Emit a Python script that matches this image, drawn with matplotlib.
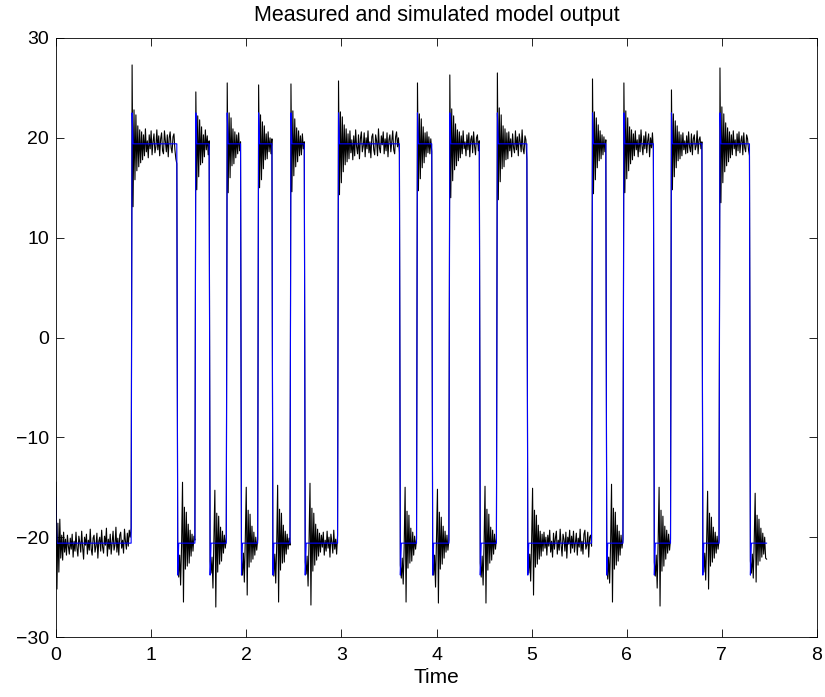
import matplotlib
matplotlib.use("Agg")
import matplotlib.pyplot as plt
import numpy as np

# sample period of the record [s]
dt = 0.01

# switching instants of the input
rise_times = [0.80, 1.47, 1.80, 2.13, 2.47, 2.97, 3.80, 4.14, 4.64, 5.64, 5.97, 6.47, 6.98]
fall_times = [1.28, 1.62, 1.95, 2.28, 2.62, 3.62, 3.96, 4.46, 4.96, 5.79, 6.29, 6.80, 7.30]

# settled levels of the simulated output
high_level = 19.4
low_level = -20.6
# simulated output, first sample after an edge and at t=0
rise_peak = 22.5
fall_peak = -23.8
start_value = -16.0

# measured output minus the settled level, one value per sample
meas_resid = [
    # low, 0 .. 0.79
    6.1, -4.6, 2.0, -2.9, 2.4, -1.5, 0.8, -1.7, 1.1, -0.9,
    0.4, -1.2, 0.8, -0.3, -1.1, 0.5, -0.6, 0.9, -1.4, 0.2,
    -0.8, 1.1, -0.5, -1.3, 0.7, 0.1, -0.9, 1.2, -0.4, -1.6,
    0.6, -0.2, 0.9, -1.1, 0.3, -0.7, 1.4, -0.6, -1.2, 0.5,
    0.8, -0.9, -0.3, 1.0, -1.5, 0.2, 0.6, -0.8, 1.3, -0.4,
    -1.0, 0.7, -0.2, 1.5, -1.3, 0.4, -0.6, 0.9, -1.1, 0.1,
    1.2, -0.7, -0.2, 1.6, -0.9, 0.5, -1.2, 0.8, 1.1, -0.5,
    0.3, -1.0, 1.4, 0.2, -0.6, 1.0, -0.3, 1.3, 0.6, 1.5,
    # high
    7.9, -6.3, 3.4, -3.6, 2.9, -2.7, 1.8, -2.3, 1.4, -1.9,
    1.2, -1.6, 0.9, -1.2, 1.5, -0.8, 0.3, -1.4, 0.9, -0.5,
    1.3, -1.1, 0.2, 1.0, -0.9, -0.3, 1.4, -0.6, 0.8, -1.2,
    0.5, 1.1, -0.7, -1.0, 1.3, 0.2, -0.8, 0.9, -1.3, 0.6,
    1.2, -0.4, -0.9, 0.7, 1.0, -0.6, -1.5, -2.0,
    # low
    -2.0, -3.4, -1.2, -4.2, -0.3, 6.1, -5.9, 3.6, -2.6, 3.1,
    -2.3, 1.9, -2.0, 1.3, -1.3, 0.9, -0.8, 0.7, 0.3,
    # high
    5.2, -4.6, 2.8, -3.3, 2.4, -2.1, 1.7, -1.9, 0.9, -1.3,
    1.4, -0.6, 0.8, -1.1, 0.3,
    # low
    -1.8, -3.0, -1.4, -4.5, 0.2, 5.3, -6.4, 3.0, -2.9, 2.7,
    -2.1, 1.6, -1.8, 1.2, -1.0, 0.8, -0.5, 0.6,
    # high
    6.1, -4.9, 3.1, -3.4, 2.6, -2.2, 1.5, -2.0, 1.2, -1.4,
    0.9, -1.0, 1.1, -0.7, 0.2,
    # low
    -1.6, -3.2, -1.0, -3.9, 0.4, 5.6, -5.2, 3.3, -2.4, 2.9,
    -1.9, 1.7, -1.6, 1.1, -1.2, 0.6, -0.7, 0.4,
    # high
    5.9, -4.4, 2.9, -3.6, 2.2, -2.5, 1.8, -1.6, 1.0, -1.5,
    1.2, -0.8, 0.6, -1.0, 0.5,
    # low
    -2.1, -3.3, -1.1, -4.0, -0.2, 5.8, -5.9, 3.4, -2.7, 3.0,
    -2.0, 1.8, -1.9, 1.2, -1.1, 0.9, -0.6, 0.5, -0.2,
    # high
    6.0, -4.8, 3.3, -3.2, 2.5, -2.3, 1.6, -1.8, 1.3, -1.2,
    0.8, -1.1, 1.0, -0.5, 0.2,
    # low
    -1.9, -3.1, -1.3, -4.3, 0.1, 6.0, -6.2, 3.5, -2.8, 3.0,
    -2.2, 1.9, -1.7, 1.4, -1.3, 1.0, -0.9, 0.8, -0.4, 1.1,
    -1.2, 0.3, -0.8, 1.2, -0.5, 0.6, -1.4, 0.9, 0.1, -1.0,
    1.3, -0.6, 0.4, -1.1, 0.8,
    # high
    6.3, -5.1, 3.2, -3.9, 2.7, -2.8, 1.9, -2.1, 1.5, -1.8,
    1.0, -1.5, 1.3, -0.9, 0.4, -1.6, 0.8, -1.2, 1.4, -0.3,
    -1.0, 0.9, -1.5, 0.5, 1.2, -0.8, -0.2, 1.1, -1.3, 0.6,
    -0.5, 1.3, -0.9, 0.2, -1.4, 0.7, 1.0, -0.6, -1.1, 0.9,
    0.3, -1.2, 1.5, -0.4, -0.9, 0.8, -0.1, 1.2, -1.0, 0.5,
    -0.7, 1.1, -1.3, 0.4, 0.9, -0.8, 0.2, 1.3, -0.6, -1.0,
    0.7, 1.2, -0.3, 0.6, -0.9,
    # low
    -2.2, -3.5, -1.5, -4.1, -0.4, 5.6, -5.9, 3.2, -2.5, 2.8,
    -2.0, 1.5, -1.8, 1.1, -1.2, 0.7, -0.6, 0.4,
    # high
    6.1, -4.7, 3.0, -3.5, 2.5, -2.4, 1.7, -1.9, 1.1, -1.3,
    1.2, -0.9, 0.7, -1.0, 0.5, -0.8,
    # low
    -1.7, -3.2, -1.2, -4.4, 0.3, 5.4, -6.0, 3.1, -2.6, 2.6,
    -2.1, 1.7, -1.5, 1.2, -0.9, 0.8, -0.7, 0.3,
    # high
    6.9, -5.4, 3.5, -3.7, 2.8, -2.6, 2.0, -2.2, 1.4, -1.7,
    1.2, -1.4, 0.8, -1.0, 1.3, -0.5, 0.2, -1.2, 0.9, -0.6,
    1.1, -1.3, 0.4, 0.8, -0.9, 1.2, -0.2, -1.1, 0.6, 0.9,
    -0.7, 0.3,
    # low
    -2.0, -3.4, -1.3, -4.2, -0.1, 5.7, -6.0, 3.4, -2.7, 2.9,
    -2.0, 1.6, -1.7, 1.3, -1.1, 0.9, -0.6, 0.5,
    # high
    7.1, -5.6, 3.6, -3.8, 2.9, -2.5, 1.8, -2.3, 1.5, -1.6,
    1.1, -1.5, 1.2, -0.7, 0.5, -1.3, 1.0, -0.4, -0.9, 1.3,
    -0.6, 0.7, -1.2, 1.0, 0.2, -0.8, 1.4, -0.5, -1.0, 0.8,
    0.4, -1.6,
    # low
    -1.8, -3.0, -1.1, -3.8, 0.2, 5.5, -5.2, 3.3, -2.4, 2.8,
    -2.1, 1.8, -1.6, 1.2, -1.3, 0.9, -0.8, 1.1, -0.5, 0.6,
    -1.2, 0.8, -0.3, 1.3, -0.9, 0.2, -1.4, 1.0, -0.6, 0.5,
    1.2, -1.1, 0.3, -0.7, 1.4, -0.2, -1.3, 0.9, 0.4, -0.8,
    1.1, -1.5, 0.6, -0.1, 1.3, -1.0, 0.7, -0.5, 1.2, -0.9,
    0.1, 1.0, -1.2, 0.5, -0.4, 1.4, -0.8, 0.2, -1.1, 0.9,
    1.3, -0.6, -0.2, 1.1, -1.4, 0.6, 0.8, -0.3,
    # high
    6.5, -5.0, 3.2, -3.6, 2.6, -2.4, 1.9, -1.7, 1.3, -1.5,
    0.9, -1.1, 0.7, -0.8, 0.4,
    # low
    -2.1, -3.6, -1.4, -4.0, -0.2, 5.9, -5.9, 3.5, -2.6, 3.1,
    -2.2, 1.8, -1.8, 1.2, -1.2, 0.8, -0.5, 0.4,
    # high
    6.1, -4.9, 3.3, -3.5, 2.6, -2.7, 1.7, -2.0, 1.4, -1.6,
    1.0, -1.2, 1.3, -0.6, 0.4, -1.3, 0.9, -0.8, 1.4, -0.2,
    -1.1, 0.8, -0.5, 1.2, -0.9, 0.3, 1.0, -1.3, 0.6, -0.4,
    1.1, -0.7,
    # low
    -1.9, -3.3, -1.2, -4.5, 0.1, 5.6, -6.3, 3.3, -2.8, 2.7,
    -2.3, 1.7, -1.6, 1.3, -1.0, 0.9, -0.7, 0.4,
    # high
    5.4, -4.6, 3.0, -3.3, 2.3, -2.4, 1.8, -1.7, 1.2, -1.5,
    0.9, -1.2, 1.1, -0.6, 0.3, -1.0, 0.8, -0.9, 1.2, -0.3,
    -0.8, 1.0, -1.1, 0.5, 0.9, -0.6, -0.2, 1.3, -1.0, 0.4,
    0.7, -0.5, 0.2,
    # low
    -1.6, -2.9, -1.0, -3.7, 0.3, 5.2, -4.6, 3.0, -2.3, 2.6,
    -1.9, 1.6, -1.5, 1.1, -1.0, 0.7, -0.6, 0.3,
    # high
    7.6, -5.9, 3.7, -3.9, 3.0, -2.8, 2.1, -2.2, 1.6, -1.8,
    1.2, -1.4, 0.9, -1.1, 1.3, -0.5, 0.4, -1.2, 1.0, -0.7,
    1.2, -0.9, 0.3, 0.8, -1.1, 1.1, -0.4, -0.8, 0.9, 0.5,
    -0.6, -1.2,
    # low, to the end
    -1.8, -3.0, -1.1, -3.5, 0.2, 5.0, -3.9, 2.8, -2.2, 2.4,
    -1.8, 1.5, -1.4, 1.0, -1.1, 0.6, -1.5, -1.6,
]


def main() -> None:
    n = len(meas_resid)
    t = np.arange(n) * dt
    i_rise = np.rint(np.array(rise_times) / dt).astype(int)
    i_fall = np.rint(np.array(fall_times) / dt).astype(int)

    # settled square wave
    level = np.full(n, low_level)
    for a, b in zip(i_rise, i_fall):
        level[a:b] = high_level

    y_meas = level + np.array(meas_resid)

    y_sim = level.copy()
    y_sim[0] = start_value
    y_sim[i_rise[i_rise < n]] = rise_peak
    y_sim[i_fall[i_fall < n]] = fall_peak

    plt.rcParams["font.family"] = ["Liberation Sans", "DejaVu Sans"]
    fig = plt.figure(figsize=(8.25, 6.97), dpi=100)
    ax = fig.add_axes([56 / 825, 60 / 697, 761 / 825, 599 / 697])

    ax.plot(t, y_meas, color="k", linewidth=0.8)
    ax.plot(t, y_sim, color=(0, 0, 1), linewidth=0.8)

    ax.set_xlim(0, 8)
    ax.set_ylim(-30, 30)
    ax.set_xticks(np.arange(0, 9, 1))
    ax.set_yticks(np.arange(-30, 31, 10))
    ax.tick_params(direction="in", length=6, width=0.6, top=True, right=True,
                   labelsize=14)
    ax.tick_params(axis="x", pad=7)
    ax.tick_params(axis="y", pad=5)
    for s in ax.spines.values():
        s.set_linewidth(0.6)
    ax.set_xlabel("Time", fontsize=15, labelpad=3)
    ax.set_title("Measured and simulated model output", fontsize=15.5, pad=12)

    fig.savefig("out.png", dpi=100)


if __name__ == "__main__":
    main()
